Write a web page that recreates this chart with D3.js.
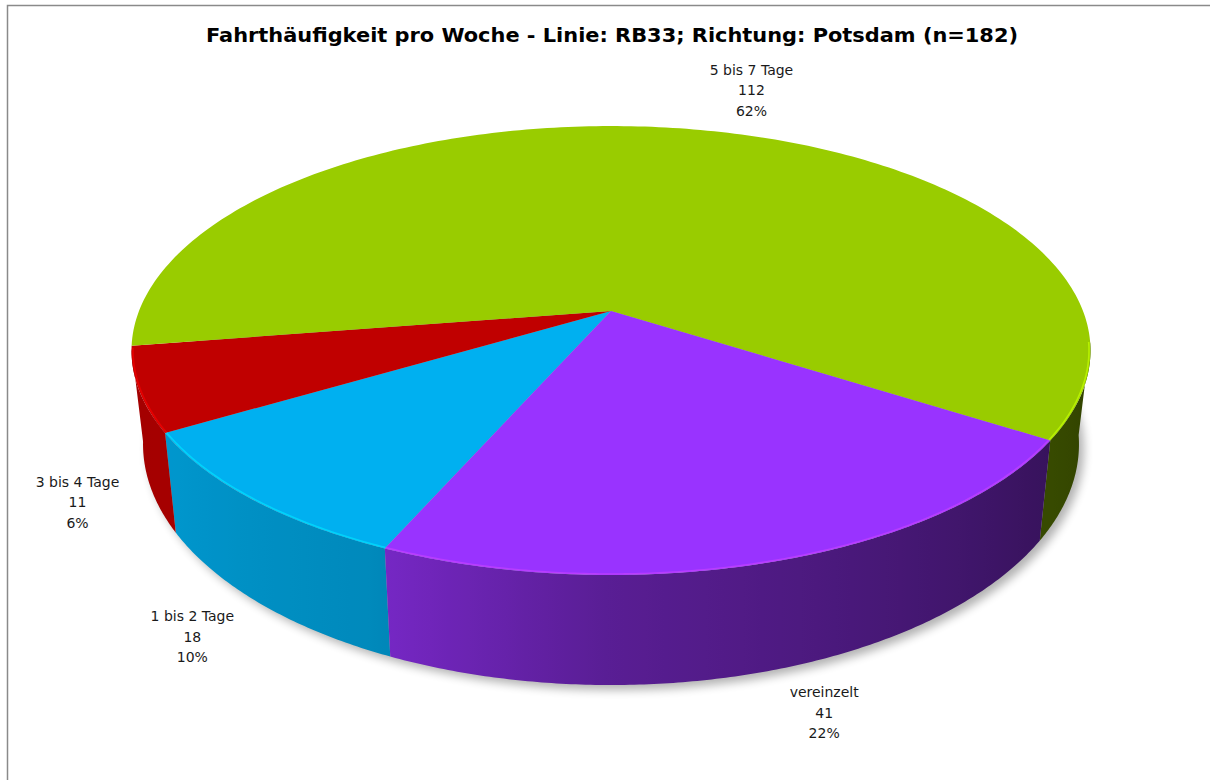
<!DOCTYPE html>
<html>
<head>
<meta charset="utf-8">
<script src="https://cdn.jsdelivr.net/npm/d3@7"></script>
<style>
body { margin: 0; background: #fff; }
text { font-family: "DejaVu Sans", Verdana, sans-serif; }
</style>
</head>
<body>
<svg id="chart"></svg>
<script>
// Chart data
var title = "Fahrthäufigkeit pro Woche - Linie: RB33; Richtung: Potsdam (n=182)";
var categories = ["1 bis 2 Tage", "3 bis 4 Tage", "5 bis 7 Tage", "vereinzelt"];
var counts = [18, 11, 112, 41];
var percents = ["10%", "6%", "62%", "22%"];
var colors = ["#00B0F0", "#C00000", "#99CC00", "#9933FF"];

// Layout of the 3d pie
var width = 1210, height = 780;
var cx = 611, cy = 311;      // centre of the top face
var rx = 472, ry = 217.5;    // radii of the top face
var k = 0.176;               // perspective strength
var depth = 90.7;            // thickness of the pie
var shrink = 0.976;          // bottom face is a bit narrower (perspective)
var startDeg = 203.7;        // first slice starts here, clockwise from 12 o'clock
var rad = Math.PI / 180;

var svg = d3.select("#chart").attr("width", width).attr("height", height);
var defs = svg.append("defs");

// project a point of the top face: angle a (radians), radius r (0..1)
function topPt(a, r) {
    var u = r * Math.sin(a), v = -r * Math.cos(a);
    var p = 1 / (1 - k * v);
    return [cx + rx * u * p, cy + ry * v * p];
}
// same point on the bottom rim
function bottomPt(a) {
    var t = topPt(a, 1);
    var p = 1 / (1 + k * Math.cos(a));
    return [cx + (t[0] - cx) * shrink, t[1] + depth * p];
}

var pie = d3.pie().sort(null).value(function (d) { return d; })
    .startAngle(startDeg * rad).endAngle(startDeg * rad + 2 * Math.PI);
var arcs = pie(counts);

// side shading, darker to the right
var shade = d3.scaleLinear()
    .domain([97, 130, 180, 205, 240, 263])
    .range([0.30, 0.38, 0.58, 0.78, 0.86, 0.84])
    .clamp(true);

function scaleColor(c, f) {
    var col = d3.rgb(c);
    return d3.rgb(col.r * f, col.g * f, col.b * f).toString();
}

// visible part of the outer wall, in degrees
var visMin = 98, visMax = 260.5;
function visibleRanges(a0, a1) {
    var out = [];
    [0, 360].forEach(function (off) {
        var s = Math.max(a0, visMin + off), e = Math.min(a1, visMax + off);
        if (e > s) out.push([s, e]);
    });
    return out;
}

// shadow
defs.append("filter").attr("id", "blur")
    .attr("x", "-10%").attr("y", "-10%").attr("width", "120%").attr("height", "120%")
    .append("feGaussianBlur").attr("stdDeviation", 5);

var line = d3.line();
var ring = d3.range(0, 361, 2).map(function (d) { return d * rad; });
svg.append("path")
    .attr("d", line(ring.map(bottomPt)) + "Z")
    .attr("transform", "translate(5,5)")
    .attr("fill", "#000").attr("opacity", 0.3)
    .attr("filter", "url(#blur)");

// outer walls, one path per visible piece with a horizontal gradient
var sides = svg.append("g");
arcs.forEach(function (d, i) {
    visibleRanges(d.startAngle / rad, d.endAngle / rad).forEach(function (r, j) {
        var angs = d3.range(r[0], r[1], 0.5).concat([r[1]]);
        var topRim = angs.map(function (a) { return topPt(a * rad, 1); });
        var botRim = angs.map(function (a) { return bottomPt(a * rad); }).reverse();
        var xs = topRim.map(function (p) { return p[0]; });
        var x0 = d3.min(xs), x1 = d3.max(xs);
        var id = "side" + i + "_" + j;
        var grad = defs.append("linearGradient").attr("id", id)
            .attr("gradientUnits", "userSpaceOnUse")
            .attr("x1", x0).attr("x2", x1).attr("y1", 0).attr("y2", 0);
        var stops = angs.filter(function (a, n) { return n % 4 === 0; }).concat([r[1]]);
        stops.map(function (a) {
            return { o: (topPt(a * rad, 1)[0] - x0) / (x1 - x0), c: scaleColor(colors[i], shade(a % 360)) };
        }).sort(function (a, b) { return a.o - b.o; })
          .forEach(function (s) {
            grad.append("stop").attr("offset", s.o).attr("stop-color", s.c);
        });
        sides.append("path")
            .attr("d", line(topRim.concat(botRim)) + "Z")
            .attr("fill", "url(#" + id + ")");
    });
});

// top faces
var tops = svg.append("g");
arcs.forEach(function (d, i) {
    var pts = [[cx, cy]];
    var n = Math.max(2, Math.ceil((d.endAngle - d.startAngle) / rad));
    for (var j = 0; j <= n; j++) {
        var a = d.startAngle + (d.endAngle - d.startAngle) * j / n;
        pts.push(topPt(a, 1));
    }
    tops.append("path").attr("d", line(pts) + "Z").attr("fill", colors[i]);
});

// light rim on the front edge of the top
arcs.forEach(function (d, i) {
    visibleRanges(d.startAngle / rad, d.endAngle / rad).forEach(function (r) {
        var pts = d3.range(r[0], r[1], 0.5).concat([r[1]]).map(function (a) { return topPt(a * rad, 0.997); });
        tops.append("path").attr("d", line(pts))
            .attr("fill", "none")
            .attr("stroke", d3.rgb(colors[i]).brighter(0.7))
            .attr("stroke-width", 1.6).attr("opacity", 0.7);
    });
});

// data labels
var labels = svg.append("g").attr("font-size", "14px").attr("fill", "#1a1a1a").attr("text-anchor", "middle");
arcs.forEach(function (d, i) {
    var mid = (d.startAngle + d.endAngle) / 2;
    var u = Math.sin(mid), v = -Math.cos(mid);
    var anchor = v > 0 ? bottomPt(mid) : topPt(mid, 1);
    var g = labels.append("g");
    var lines = [categories[i], String(counts[i]), percents[i]];
    lines.forEach(function (t, j) {
        g.append("text").attr("y", (j - 1) * 20.5 + 5).text(t);
    });
    var hw = g.node().getBBox().width / 2;
    var x = anchor[0] + Math.sign(u) * (hw + 12) + u * 20;
    var y = anchor[1] + 2 + v * 42;
    g.attr("transform", "translate(" + x + "," + y + ")");
});

// title
svg.append("text")
    .attr("x", 612).attr("y", 42)
    .attr("text-anchor", "middle")
    .attr("font-size", "20px").attr("font-weight", "bold")
    .attr("fill", "#000")
    .attr("textLength", 812).attr("lengthAdjust", "spacingAndGlyphs")
    .text(title);

// chart area border
svg.append("path")
    .attr("d", "M7.5," + height + "V5.5H" + width)
    .attr("fill", "none").attr("stroke", "#8a8a8a").attr("stroke-width", 1.5);
</script>
</body>
</html>
